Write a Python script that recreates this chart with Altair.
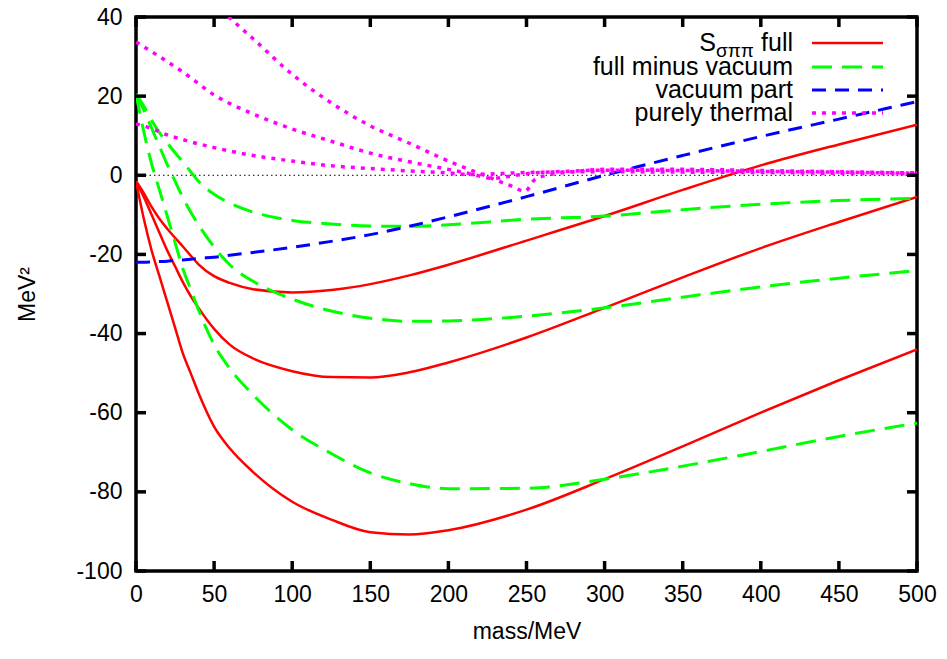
import altair as alt
import pandas as pd

# ---------------- data ----------------
mass = [0, 5, 10, 15, 20, 25, 30, 35, 40, 50, 60, 75, 100, 125, 150, 175, 200,
        250, 300, 350, 400, 450, 500]

vacuum = [-22.0, -22.0, -21.9, -21.8, -21.7, -21.5, -21.4, -21.2, -21.0, -20.7,
          -20.2, -19.5, -18.2, -16.7, -15.0, -12.9, -10.5, -5.4, 0.0, 5.0, 9.8,
          14.2, 18.6]

full_1 = [-1.5, -4.5, -8.0, -11.0, -13.5, -15.8, -18.0, -20.3, -22.5, -25.5,
          -27.2, -28.8, -29.6, -29.0, -27.5, -25.3, -22.6, -16.5, -10.3, -3.7,
          2.5, 7.8, 12.8]
full_2 = [-1.5, -5.5, -10.0, -14.5, -19.0, -23.0, -27.0, -30.5, -33.5, -38.8,
          -42.8, -46.3, -49.5, -51.0, -51.1, -49.8, -47.3, -41.0, -33.5, -25.8,
          -18.4, -11.8, -5.5]
full_3 = [-1.5, -11.0, -19.0, -25.5, -32.0, -38.5, -45.0, -50.0, -55.0, -63.5,
          -69.0, -75.0, -82.5, -87.0, -90.2, -90.8, -89.7, -84.5, -76.8, -68.5,
          -60.0, -51.8, -44.0]

minus_vac_1 = [20.5, 17.5, 13.9, 10.8, 8.2, 5.7, 3.4, 0.9, -1.5, -4.8, -7.0,
               -9.3, -11.4, -12.3, -12.8, -12.9, -12.5, -11.1, -10.3, -8.7,
               -7.3, -6.4, -5.8]
minus_vac_2 = [20.5, 16.5, 11.9, 7.3, 2.7, -1.5, -5.6, -9.3, -12.5, -18.1,
               -22.6, -26.8, -31.3, -34.3, -36.1, -36.9, -36.8, -35.6, -33.5,
               -30.8, -28.2, -26.0, -24.1]
minus_vac_3 = [20.5, 11.0, 2.9, -3.7, -10.3, -17.0, -23.6, -28.8, -34.0, -42.8,
               -48.8, -55.5, -64.3, -70.3, -75.2, -77.9, -79.2, -79.1, -76.8,
               -73.5, -69.8, -66.0, -62.6]

thermal_1_mass = [50, 55, 60, 75, 100, 125, 150, 175, 200, 210, 217, 225, 233,
                  241, 249, 255, 263, 280, 300, 350, 400, 450, 500]
thermal_1 = [43.6, 41.7, 39.8, 34.5, 25.5, 18.3, 12.5, 8.1, 3.6, 2.0, 0.9, -0.3,
             -1.6, -2.8, -4.1, -1.2, 0.0, 0.9, 1.5, 1.5, 1.2, 0.9, 0.6]
thermal_2_mass = [0, 15, 30, 50, 75, 100, 125, 150, 175, 200, 215, 228, 240,
                  250, 275, 300, 350, 400, 450, 500]
thermal_2 = [33.7, 30.0, 26.1, 20.3, 15.5, 11.7, 8.6, 5.6, 3.4, 1.5, 0.3, -0.8,
             -0.2, 0.4, 1.0, 1.3, 1.2, 1.0, 0.8, 0.5]
thermal_3_mass = [0, 10, 20, 30, 50, 75, 100, 125, 150, 175, 200, 215, 225,
                  250, 300, 350, 400, 450, 500]
thermal_3 = [13.0, 11.8, 10.2, 9.0, 7.0, 5.0, 3.6, 2.4, 1.7, 1.1, 0.6, 0.2, 0.3,
             0.7, 0.9, 0.8, 0.7, 0.5, 0.4]

x_ticks = [0, 50, 100, 150, 200, 250, 300, 350, 400, 450, 500]
y_ticks = [-100, -80, -60, -40, -20, 0, 20, 40]

legend_labels = ["full", "full minus vacuum", "vacuum part", "purely thermal"]

# ---------------- tables ----------------
def frame(xs, ys, curve):
    return pd.DataFrame({"mass": xs, "value": ys, "curve": curve})

full_df = pd.concat([frame(mass, full_1, "f1"), frame(mass, full_2, "f2"),
                     frame(mass, full_3, "f3")])
fmv_df = pd.concat([frame(mass, minus_vac_1, "g1"), frame(mass, minus_vac_2, "g2"),
                    frame(mass, minus_vac_3, "g3")])
vac_df = frame(mass, vacuum, "v")
th_df = pd.concat([frame(thermal_1_mass, thermal_1, "t1"),
                   frame(thermal_2_mass, thermal_2, "t2"),
                   frame(thermal_3_mass, thermal_3, "t3")])
zero_df = pd.DataFrame({"mass": [0, 500], "value": [0, 0]})

W, H = 781, 554
FONT = "Liberation Sans"
FS = 23
LFS = 25

xscale = alt.Scale(domain=[0, 500], nice=False, zero=False)
yscale = alt.Scale(domain=[-100, 40], nice=False, zero=False)

x_axis = alt.Axis(values=x_ticks, tickSize=0, domain=False, grid=False,
                  labelFontSize=FS, labelPadding=12, labelColor="black",
                  title="mass/MeV", titleFontSize=FS, titleFontWeight="normal",
                  titlePadding=14, titleColor="black", labelFlush=False)
y_axis = alt.Axis(values=y_ticks, tickSize=0, domain=False, grid=False,
                  labelFontSize=FS, labelPadding=14, labelColor="black",
                  labelExpr="'' + datum.value",
                  title="MeV²", titleFontSize=FS, titleFontWeight="normal",
                  titlePadding=36, titleColor="black", labelFlush=False)

base_x = alt.X("mass:Q", scale=xscale, axis=x_axis)
base_y = alt.Y("value:Q", scale=yscale, axis=y_axis)

zero_line = alt.Chart(zero_df).mark_line(
    color="black", strokeWidth=1, strokeDash=[1.5, 3]
).encode(x=base_x, y=base_y)

def curves(df, **style):
    return alt.Chart(df).mark_line(interpolate="monotone", clip=True, **style).encode(
        x="mass:Q", y="value:Q", detail="curve:N")

full_layer = curves(full_df, color="#ff0000", strokeWidth=2.5)
fmv_layer = curves(fmv_df, color="#00ff00", strokeWidth=3, strokeDash=[20, 10])
vac_layer = curves(vac_df, color="#0000ff", strokeWidth=3, strokeDash=[14, 9])
th_layer = curves(th_df, color="#ff00ff", strokeWidth=3.5, strokeDash=[4, 6])

# inward ticks on all four sides (gnuplot style)
xt_df = pd.DataFrame({"t": x_ticks})
yt_df = pd.DataFrame({"t": y_ticks})
TL = 10
tick_style = dict(color="black", strokeWidth=3.5)
tick_bottom = alt.Chart(xt_df).mark_rule(**tick_style).encode(
    x=alt.X("t:Q", scale=xscale), y=alt.value(H), y2=alt.value(H - TL))
tick_top = alt.Chart(xt_df).mark_rule(**tick_style).encode(
    x=alt.X("t:Q", scale=xscale), y=alt.value(0), y2=alt.value(TL))
tick_left = alt.Chart(yt_df).mark_rule(**tick_style).encode(
    y=alt.Y("t:Q", scale=yscale), x=alt.value(0), x2=alt.value(TL))
tick_right = alt.Chart(yt_df).mark_rule(**tick_style).encode(
    y=alt.Y("t:Q", scale=yscale), x=alt.value(W), x2=alt.value(W - TL))

# custom legend (top right, text right-aligned, sample to the right)
leg_rows = [26, 50, 73, 96]
leg_df = pd.DataFrame({"ly": leg_rows, "lab": legend_labels})
TX = 657
leg_text = alt.Chart(leg_df).mark_text(
    align="right", baseline="middle", fontSize=LFS, font=FONT, color="black"
).encode(x=alt.value(TX), y=alt.Y("ly:Q", scale=None), text="lab:N")

s_df = pd.DataFrame({"ly": [leg_rows[0]]})
leg_s = alt.Chart(s_df).mark_text(
    align="right", baseline="middle", fontSize=LFS, font=FONT, color="black"
).encode(x=alt.value(580), y=alt.Y("ly:Q", scale=None), text=alt.value("S"))
leg_sub = alt.Chart(s_df).mark_text(
    align="left", baseline="middle", fontSize=19, font=FONT, color="black", dy=8
).encode(x=alt.value(580), y=alt.Y("ly:Q", scale=None), text=alt.value("σππ"))

SX1, SX2 = 676, 747
def sample(row, color, width, dash=None):
    d = pd.DataFrame({"ly": [leg_rows[row]]})
    kw = dict(color=color, strokeWidth=width)
    if dash:
        kw["strokeDash"] = dash
    return alt.Chart(d).mark_rule(**kw).encode(
        x=alt.value(SX1), x2=alt.value(SX2), y=alt.Y("ly:Q", scale=None))

samples = [sample(0, "#ff0000", 2.5), sample(1, "#00ff00", 3, [20, 10]),
           sample(2, "#0000ff", 3, [14, 9]), sample(3, "#ff00ff", 3.5, [4, 6])]

chart = alt.layer(
    zero_line, full_layer, fmv_layer, vac_layer, th_layer,
    tick_bottom, tick_top, tick_left, tick_right,
    leg_text, leg_s, leg_sub, *samples
).properties(
    width=W, height=H,
    autosize=alt.AutoSizeParams(type="none"),
    padding={"left": 128, "top": 9, "right": 22, "bottom": 80},
).configure(font=FONT, background="white").configure_view(
    stroke="black", strokeWidth=3.5
)

chart.save("out.html", embed_options={"renderer": "svg", "actions": False})
